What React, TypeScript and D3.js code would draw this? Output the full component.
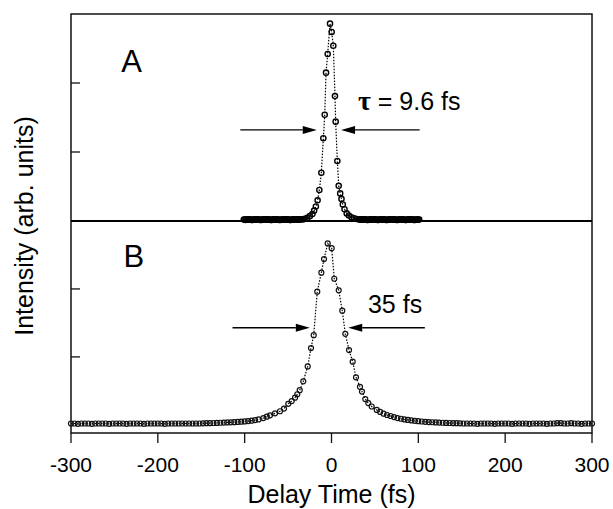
import React from "react";
import * as d3 from "d3";

// Panel A: autocorrelation trace (delay fs, intensity arb. units)
const seriesA: [number, number][] = [
  [-101, 0.02], [-100, 0.02], [-99, 0.015], [-98, 0.02], [-97, 0.02], [-96, 0.025], [-95, 0.025],
  [-94, 0.02], [-93, 0.02], [-92, 0.015], [-91, 0.015], [-90, 0.02], [-89, 0.02], [-88, 0.02],
  [-87, 0.02], [-86, 0.025], [-85, 0.025], [-84, 0.02], [-83, 0.02], [-82, 0.015], [-81, 0.015],
  [-80, 0.02], [-79, 0.02], [-78, 0.02], [-77, 0.02], [-76, 0.025], [-75, 0.025], [-74, 0.02],
  [-73, 0.02], [-72, 0.02], [-71, 0.02], [-70, 0.015], [-69, 0.015], [-68, 0.02], [-67, 0.02],
  [-66, 0.025], [-65, 0.025], [-64, 0.02], [-63, 0.02], [-62, 0.02], [-61, 0.02], [-60, 0.015],
  [-59, 0.015], [-58, 0.02], [-57, 0.02], [-56, 0.02], [-55, 0.02], [-54, 0.025], [-53, 0.025],
  [-52, 0.02], [-51, 0.02], [-50, 0.02], [-49, 0.02], [-48, 0.015], [-47, 0.015], [-46, 0.02],
  [-45, 0.02], [-44, 0.02], [-43, 0.02], [-42, 0.025], [-41, 0.025], [-40, 0.02], [-39, 0.02],
  [-38, 0.02], [-37, 0.02], [-36, 0.025], [-35, 0.025], [-34, 0.025], [-33, 0.025], [-32, 0.03],
  [-31, 0.03], [-28, 0.045], [-25, 0.07], [-22, 0.1], [-20, 0.15], [-18, 0.21], [-16, 0.3],
  [-14, 0.45], [-11.7, 0.7], [-9.4, 1.2], [-7.8, 1.54], [-6.3, 2.15], [-4.4, 2.42], [-1.7, 2.86],
  [0.2, 2.74], [2.1, 2.54], [4.0, 1.81], [4.8, 1.44], [6.7, 0.87], [8.3, 0.51], [10, 0.4],
  [11.5, 0.32], [13, 0.24], [15, 0.17], [17.5, 0.11], [20, 0.08], [23, 0.055], [26, 0.04], [29, 0.03],
  [31, 0.025], [32, 0.025], [33, 0.02], [34, 0.02], [35, 0.02], [36, 0.02], [37, 0.025], [38, 0.025],
  [39, 0.02], [40, 0.02], [41, 0.015], [42, 0.015], [43, 0.02], [44, 0.02], [45, 0.02], [46, 0.02],
  [47, 0.025], [48, 0.025], [49, 0.02], [50, 0.02], [51, 0.02], [52, 0.02], [53, 0.015], [54, 0.015],
  [55, 0.02], [56, 0.02], [57, 0.025], [58, 0.025], [59, 0.02], [60, 0.02], [61, 0.02], [62, 0.02],
  [63, 0.015], [64, 0.015], [65, 0.02], [66, 0.02], [67, 0.02], [68, 0.02], [69, 0.025], [70, 0.025],
  [71, 0.02], [72, 0.02], [73, 0.02], [74, 0.02], [75, 0.015], [76, 0.015], [77, 0.02], [78, 0.02],
  [79, 0.025], [80, 0.025], [81, 0.02], [82, 0.02], [83, 0.02], [84, 0.02], [85, 0.015], [86, 0.015],
  [87, 0.02], [88, 0.02], [89, 0.02], [90, 0.02], [91, 0.025], [92, 0.025], [93, 0.02], [94, 0.02],
  [95, 0.015], [96, 0.015], [97, 0.02], [98, 0.02], [99, 0.02], [100, 0.02], [101, 0.02],
];

// Panel B: autocorrelation trace
const seriesB: [number, number][] = [
  [-300, 0.02], [-296, 0.02], [-292, 0.015], [-288, 0.02], [-284, 0.02], [-280, 0.02], [-276, 0.015],
  [-272, 0.02], [-268, 0.02], [-264, 0.02], [-260, 0.02], [-256, 0.015], [-252, 0.02], [-248, 0.02],
  [-244, 0.02], [-240, 0.02], [-236, 0.015], [-232, 0.02], [-228, 0.02], [-224, 0.02], [-220, 0.02],
  [-216, 0.015], [-212, 0.02], [-208, 0.02], [-204, 0.02], [-200, 0.02], [-196, 0.02], [-192, 0.015],
  [-188, 0.02], [-184, 0.02], [-180, 0.02], [-176, 0.02], [-172, 0.02], [-168, 0.02], [-164, 0.02],
  [-160, 0.02], [-156, 0.02], [-152, 0.02],
  [-148, 0.022], [-144, 0.024], [-140, 0.025], [-136, 0.027], [-132, 0.029], [-128, 0.031],
  [-124, 0.033], [-120, 0.035], [-116, 0.037], [-112, 0.04], [-108, 0.043], [-104, 0.047],
  [-100, 0.051], [-96, 0.056], [-92, 0.062], [-88, 0.07], [-84, 0.08],
  [-78.5, 0.1], [-74.5, 0.12], [-70.8, 0.14], [-65, 0.17], [-59.3, 0.2], [-54.7, 0.24], [-49.8, 0.31],
  [-45.8, 0.35], [-42, 0.4], [-39.4, 0.45], [-36.6, 0.51], [-32.5, 0.64], [-27.4, 0.86], [-23.6, 1.13],
  [-20.5, 1.32], [-16.4, 1.96], [-11.7, 2.24], [-8.6, 2.44], [-4.4, 2.67],
  [0.2, 2.6], [3.2, 2.15], [8.3, 1.98], [12.4, 1.68], [15.9, 1.34], [20.2, 1.1], [24.4, 0.93],
  [28.2, 0.7], [32.8, 0.56], [35.1, 0.49], [38.9, 0.38], [42.4, 0.32], [46.3, 0.27], [52.1, 0.22],
  [56, 0.19], [60, 0.165], [64, 0.145], [68, 0.13], [72, 0.115], [76, 0.1], [80, 0.09], [84, 0.08],
  [88, 0.072], [92, 0.065], [96, 0.059], [100, 0.054], [104, 0.049], [108, 0.045], [112, 0.041],
  [116, 0.038], [120, 0.035], [124, 0.033], [128, 0.031], [132, 0.029], [136, 0.027], [140, 0.025],
  [144, 0.024], [148, 0.022],
  [152, 0.02], [156, 0.02], [160, 0.02], [164, 0.02], [168, 0.015], [172, 0.02], [176, 0.02],
  [180, 0.02], [184, 0.02], [188, 0.015], [192, 0.02], [196, 0.02], [200, 0.02], [204, 0.02],
  [208, 0.015], [212, 0.02], [216, 0.02], [220, 0.02], [224, 0.02], [228, 0.015], [232, 0.02],
  [236, 0.02], [240, 0.02], [244, 0.02], [248, 0.015], [252, 0.02], [256, 0.02], [260, 0.025],
  [264, 0.025], [268, 0.02], [272, 0.02], [276, 0.025], [280, 0.02], [284, 0.02], [288, 0.015],
  [292, 0.02], [296, 0.02], [300, 0.02],
];

const xTickValues = [-300, -200, -100, 0, 100, 200, 300];
const yTickValuesA = [1, 2];
const yTickValuesB = [1, 2];
const panelLabels = ["A", "B"];
const widthLabelA = { symbol: "τ", rest: " = 9.6 fs" };
const widthLabelB = "35 fs";
// arrows (delay fs, intensity units): [tail, tip]
const arrowsA = { level: 1.32, left: [-105, -17], right: [101.5, 11] };
const arrowsB = { level: 1.43, left: [-114, -25], right: [107.5, 19.3] };

const FONT = "'Liberation Sans', Arial, Helvetica, sans-serif";

export default function App() {
  const W = 613, H = 509;
  const left = 71, right = 592, top = 14, mid = 221, bottom = 433;

  const x = d3.scaleLinear().domain([-300, 300]).range([left, right]);
  const yA = d3.scaleLinear().domain([0, 3]).range([mid, top]);
  const yB = d3.scaleLinear().domain([-0.12, 3]).range([bottom, mid]);

  const lineA = d3.line<[number, number]>().x(d => x(d[0])).y(d => yA(d[1]))(seriesA) || "";
  const lineB = d3.line<[number, number]>().x(d => x(d[0])).y(d => yB(d[1]))(seriesB) || "";

  const arrow = (tail: number, tip: number, yy: number, key: string) => {
    const x0 = x(tail), x1 = x(tip);
    const dir = x1 > x0 ? 1 : -1;
    const hl = 14, hw = 4;
    const base = x1 - dir * hl;
    return (
      <g key={key}>
        <line x1={x0} y1={yy} x2={base} y2={yy} stroke="#000" strokeWidth={1.4} />
        <polygon points={`${x1},${yy} ${base},${yy - hw} ${base},${yy + hw}`} fill="#000" />
      </g>
    );
  };

  return (
    <svg width={W} height={H} style={{ position: "absolute", left: 0, top: 0, background: "#fff" }}
      fontFamily={FONT}>
      <rect x={0} y={0} width={W} height={H} fill="#fff" />

      {/* data lines */}
      <path d={lineA} fill="none" stroke="#000" strokeWidth={1.2} strokeDasharray="1.5,1.5" />
      <path d={lineB} fill="none" stroke="#000" strokeWidth={1.2} strokeDasharray="1.5,1.5" />

      {/* markers */}
      {seriesA.map((d, i) => (
        <circle key={"a" + i} cx={x(d[0])} cy={yA(d[1])} r={2.6} fill="none" stroke="#000" strokeWidth={1.4} />
      ))}
      {seriesB.map((d, i) => (
        <circle key={"b" + i} cx={x(d[0])} cy={yB(d[1])} r={2.5} fill="none" stroke="#111" strokeWidth={1.2} />
      ))}

      {/* frame */}
      <rect x={left} y={top} width={right - left} height={bottom - top} fill="none" stroke="#111" strokeWidth={1.5} />
      <line x1={left} x2={right} y1={mid} y2={mid} stroke="#000" strokeWidth={2} />

      {/* y ticks inward */}
      {yTickValuesA.map(v => (
        <line key={"ya" + v} x1={left} x2={left + 9} y1={yA(v)} y2={yA(v)} stroke="#111" strokeWidth={1.3} />
      ))}
      {yTickValuesB.map(v => (
        <line key={"yb" + v} x1={left} x2={left + 9} y1={yB(v)} y2={yB(v)} stroke="#111" strokeWidth={1.3} />
      ))}

      {/* x ticks outward + labels */}
      {xTickValues.map(v => (
        <g key={"x" + v}>
          <line x1={x(v)} x2={x(v)} y1={bottom} y2={bottom + 10} stroke="#111" strokeWidth={1.3} />
          <text x={x(v)} y={471.5} textAnchor="middle" fontSize={21} fill="#000">{v}</text>
        </g>
      ))}

      {/* arrows */}
      {arrow(arrowsA.left[0], arrowsA.left[1], yA(arrowsA.level), "al")}
      {arrow(arrowsA.right[0], arrowsA.right[1], yA(arrowsA.level), "ar")}
      {arrow(arrowsB.left[0], arrowsB.left[1], yB(arrowsB.level), "bl")}
      {arrow(arrowsB.right[0], arrowsB.right[1], yB(arrowsB.level), "br")}

      {/* annotations */}
      <text x={x(30.5)} y={yA(1.61)} fontSize={25} fill="#000">
        <tspan fontFamily="'Liberation Serif', 'DejaVu Serif', serif" fontWeight="bold" fontSize={28}>{widthLabelA.symbol}</tspan>
        <tspan>{widthLabelA.rest}</tspan>
      </text>
      <text x={x(42)} y={yB(1.65)} fontSize={25} fill="#000">{widthLabelB}</text>

      <text x={x(-242)} y={yA(2.16)} fontSize={31} fill="#000">{panelLabels[0]}</text>
      <text x={x(-239.5)} y={yB(2.32)} fontSize={31} fill="#000">{panelLabels[1]}</text>

      {/* axis titles */}
      <text x={x(0)} y={503} textAnchor="middle" fontSize={25} fill="#000">Delay Time (fs)</text>
      <text transform={`translate(33,226) rotate(-90)`} textAnchor="middle" fontSize={25} fill="#000">
        Intensity (arb. units)
      </text>
    </svg>
  );
}
